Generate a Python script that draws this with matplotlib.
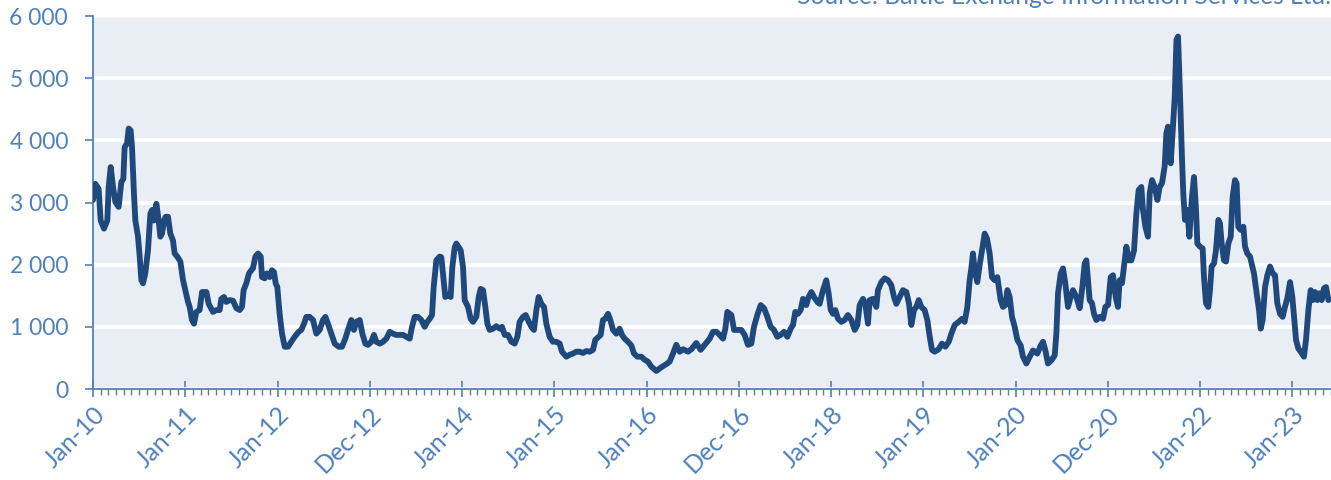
import matplotlib
matplotlib.use("Agg")
import matplotlib.pyplot as plt
from matplotlib.ticker import FixedLocator, MultipleLocator, FuncFormatter

# ---- data: years elapsed since Jan-2010 (category-axis position) and index value ----
t_years = [
    0.000, 0.025, 0.061, 0.083, 0.119, 0.155, 0.170, 0.192, 0.217, 0.242, 0.278, 0.307, 0.329, 0.343,
    0.369, 0.387, 0.408, 0.423, 0.444, 0.459, 0.488, 0.506, 0.524, 0.542, 0.567, 0.596, 0.622, 0.640,
    0.661, 0.687, 0.712, 0.730, 0.748, 0.770, 0.788, 0.813, 0.838, 0.867, 0.885, 0.914, 0.947, 0.976,
    1.001, 1.030, 1.048, 1.073, 1.095, 1.120, 1.156, 1.182, 1.229, 1.254, 1.301, 1.337, 1.373, 1.391,
    1.420, 1.445, 1.481, 1.518, 1.554, 1.590, 1.615, 1.633, 1.662, 1.691, 1.716, 1.734, 1.760, 1.789,
    1.818, 1.832, 1.861, 1.886, 1.915, 1.940, 1.962, 1.980,
    1.998, 2.023, 2.049, 2.078, 2.114, 2.150, 2.186, 2.229, 2.258, 2.287, 2.313, 2.349, 2.385, 2.421,
    2.457, 2.493, 2.519, 2.547, 2.584, 2.620, 2.663, 2.699, 2.735, 2.764, 2.800, 2.829, 2.855, 2.891,
    2.920, 2.952, 2.981, 3.017, 3.046, 3.071, 3.108, 3.144, 3.180, 3.216, 3.252, 3.288, 3.324, 3.360,
    3.397, 3.433, 3.458, 3.487, 3.523, 3.559, 3.595, 3.624, 3.650, 3.675, 3.693, 3.722, 3.758, 3.776,
    3.801, 3.819, 3.848, 3.877, 3.895, 3.921, 3.939,
    3.986, 4.011, 4.029, 4.065, 4.094, 4.119, 4.155, 4.181, 4.202, 4.228, 4.253, 4.275, 4.300, 4.336,
    4.372, 4.408, 4.434, 4.463, 4.499, 4.535, 4.571, 4.600, 4.625, 4.661, 4.690, 4.715, 4.752, 4.780,
    4.806, 4.831, 4.860, 4.889, 4.914, 4.950, 4.986, 5.023, 5.059, 5.084, 5.131, 5.167, 5.203, 5.239,
    5.276, 5.312, 5.348, 5.384, 5.420, 5.445, 5.481, 5.503, 5.528, 5.554, 5.583, 5.608, 5.637, 5.673,
    5.709, 5.734, 5.763, 5.799, 5.836, 5.864, 5.901,
    5.944, 5.980, 6.016, 6.052, 6.107, 6.161, 6.215, 6.251, 6.287, 6.323, 6.360, 6.396, 6.450, 6.486,
    6.540, 6.587, 6.631, 6.685, 6.721, 6.757, 6.793, 6.829, 6.855, 6.876, 6.920, 6.949, 6.985, 7.028,
    7.064, 7.100, 7.136, 7.165, 7.201, 7.238, 7.274, 7.310, 7.346, 7.382, 7.418, 7.454, 7.491, 7.527,
    7.563, 7.588, 7.613, 7.642, 7.671, 7.696, 7.732, 7.758, 7.787, 7.816, 7.852,
    7.877, 7.913, 7.949, 7.975, 7.997, 8.022, 8.047, 8.076, 8.112, 8.148, 8.184, 8.220, 8.257, 8.286,
    8.311, 8.347, 8.372, 8.401, 8.419, 8.455, 8.491, 8.509, 8.546, 8.582, 8.618, 8.654, 8.683, 8.708,
    8.744, 8.780, 8.817, 8.846, 8.871, 8.900, 8.925, 8.951, 8.979, 9.015, 9.044, 9.070, 9.095, 9.124,
    9.167, 9.203, 9.239, 9.276, 9.312, 9.341, 9.384, 9.420, 9.449, 9.478, 9.503, 9.521, 9.539, 9.557,
    9.586, 9.611, 9.637, 9.666, 9.691, 9.720, 9.745, 9.774, 9.803,
    9.839, 9.864, 9.890, 9.912, 9.937, 9.962, 9.991, 10.020, 10.056, 10.081, 10.118, 10.154, 10.190,
    10.237, 10.273, 10.298, 10.324, 10.352, 10.388, 10.425, 10.443, 10.461, 10.490, 10.515, 10.540,
    10.569, 10.598, 10.623, 10.659, 10.696, 10.725, 10.750, 10.768, 10.786, 10.804, 10.829, 10.851,
    10.876, 10.912, 10.949, 10.974, 11.003, 11.032, 11.057, 11.086, 11.111, 11.129, 11.154, 11.176,
    11.202, 11.227, 11.256, 11.285, 11.310, 11.335, 11.364, 11.382, 11.408, 11.436, 11.455, 11.480,
    11.509, 11.538, 11.563, 11.588, 11.617, 11.635, 11.653, 11.682, 11.707, 11.726, 11.745, 11.762,
    11.783, 11.805,
    11.819, 11.837, 11.863, 11.885, 11.910, 11.935, 11.957, 11.971, 12.000, 12.029, 12.043, 12.065,
    12.090, 12.108, 12.126, 12.152, 12.173, 12.199, 12.217, 12.235, 12.260, 12.282, 12.307, 12.333,
    12.354, 12.379, 12.397, 12.415, 12.441, 12.470, 12.488, 12.513, 12.542, 12.560, 12.585, 12.614,
    12.640, 12.658, 12.679, 12.705, 12.730, 12.759, 12.788, 12.813, 12.838, 12.867, 12.896, 12.921,
    12.947, 12.976, 13.001, 13.019, 13.041, 13.066, 13.092, 13.127, 13.149, 13.175, 13.200, 13.221,
    13.247, 13.272, 13.294, 13.319, 13.344, 13.366, 13.392,
]
bdi = [
    3040, 3300, 3220, 2710, 2580, 2710, 3250, 3570, 3250, 3010, 2930, 3330, 3380, 3890,
    3950, 4190, 4160, 3890, 3140, 2710, 2450, 2130, 1750, 1700, 1860, 2230, 2820, 2880,
    2710, 2980, 2710, 2450, 2500, 2710, 2770, 2770, 2500, 2390, 2180, 2130, 2050, 1750,
    1590, 1400, 1320, 1110, 1050, 1240, 1270, 1560, 1560, 1370, 1240, 1270, 1270, 1450,
    1480, 1400, 1430, 1420, 1300, 1270, 1320, 1590, 1700, 1860, 1910, 1940, 2130, 2180,
    2130, 1800, 1780, 1860, 1800, 1910, 1880, 1700,
    1640, 1210, 890, 680, 680, 760, 840, 920, 950, 1050, 1160, 1160, 1110, 890,
    950, 1110, 1160, 1050, 890, 730, 680, 680, 810, 950, 1110, 950, 1080, 1110,
    890, 730, 710, 760, 870, 760, 730, 760, 810, 920, 890, 870, 870, 870,
    840, 810, 1000, 1160, 1160, 1110, 1000, 1080, 1130, 1190, 1640, 2070, 2130, 2120,
    1750, 1480, 1510, 1480, 1960, 2280, 2340,
    2230, 1960, 1430, 1320, 1130, 1080, 1160, 1480, 1610, 1590, 1320, 1050, 950, 970,
    1010, 970, 1000, 870, 870, 760, 730, 840, 1080, 1160, 1190, 1110, 1000, 950,
    1270, 1480, 1370, 1320, 1050, 840, 760, 760, 730, 600, 520, 550, 570, 600,
    600, 580, 610, 600, 630, 790, 840, 870, 1110, 1130, 1210, 1110, 950, 890,
    970, 870, 810, 760, 700, 570, 520,
    520, 470, 440, 360, 290, 350, 400, 440, 570, 710, 600, 640, 600, 640,
    740, 630, 710, 810, 920, 920, 870, 810, 970, 1240, 1190, 950, 950, 950,
    870, 710, 730, 1000, 1190, 1350, 1300, 1160, 1000, 950, 840, 870, 920, 840,
    970, 1030, 1240, 1210, 1270, 1450, 1350, 1480, 1560, 1480, 1400,
    1370, 1590, 1750, 1530, 1270, 1210, 1270, 1130, 1080, 1110, 1190, 1110, 950, 1030,
    1350, 1450, 1370, 1050, 1430, 1450, 1320, 1590, 1720, 1780, 1750, 1670, 1480, 1370,
    1480, 1590, 1560, 1370, 1030, 1270, 1320, 1430, 1320, 1270, 1110, 840, 630, 600,
    640, 730, 680, 760, 920, 1030, 1080, 1130, 1080, 1320, 1750, 1940, 2180, 1910,
    1720, 1990, 2230, 2500, 2420, 2180, 1800, 1750, 1800,
    1430, 1320, 1350, 1590, 1480, 1160, 1000, 790, 700, 520, 410, 520, 620,
    570, 700, 760, 620, 410, 460, 540, 890, 1540, 1860, 1940, 1700,
    1320, 1480, 1590, 1480, 1300, 1640, 2020, 2070, 1750, 1430, 1380, 1210,
    1110, 1160, 1130, 1320, 1350, 1800, 1830, 1480, 1320, 1750, 1700, 1970,
    2290, 2070, 2070, 2230, 2820, 3200, 3250, 2880, 2610, 2450, 3150, 3360,
    3250, 3040, 3250, 3310, 3580, 4110, 4220, 3630, 4220, 4700, 5620, 5670,
    4750, 3700,
    3140, 2720, 2880, 2450, 3040, 3410, 2880, 2340, 2290, 2260, 1800, 1380,
    1320, 1590, 1970, 2020, 2230, 2720, 2660, 2340, 2070, 2050, 2340, 2450,
    3090, 3360, 3310, 2610, 2560, 2610, 2290, 2180, 2130, 2020, 1860, 1540,
    1270, 970, 1110, 1640, 1830, 1970, 1860, 1830, 1380, 1210, 1160, 1320,
    1460, 1720, 1480, 1160, 790, 650, 600, 520, 790, 1270, 1590, 1430,
    1560, 1430, 1540, 1430, 1620, 1640, 1430,
]

x_tick_labels = ["Jan-10", "Jan-11", "Jan-12", "Dec-12", "Jan-14", "Jan-15", "Jan-16",
                 "Dec-16", "Jan-18", "Jan-19", "Jan-20", "Dec-20", "Jan-22", "Jan-23"]
y_ticks = [0, 1000, 2000, 3000, 4000, 5000, 6000]
source_text = "Source: Baltic Exchange Information Services Ltd."

# ---- style ----
LINE = "#1F497D"
AXC = "#4F81BD"
BG = "#E9EDF4"
FONT = ["Lato", "DejaVu Sans"]
plt.rcParams["font.family"] = FONT

fig = plt.figure(figsize=(13.31, 4.80), dpi=100)
ax = fig.add_axes([93 / 1331, 91 / 480, 1 - 93 / 1331, (389 - 16) / 480])
ax.set_facecolor(BG)

ax.plot(t_years, bdi, color=LINE, lw=4.2, solid_joinstyle="round", solid_capstyle="round", zorder=3)

ax.set_ylim(0, 6000)
ax.set_xlim(0, (1331 - 93) / 92.25)

ax.yaxis.set_major_locator(FixedLocator(y_ticks))
ax.yaxis.set_major_formatter(FuncFormatter(lambda v, p: f"{int(v):,}".replace(",", " ")))
ax.grid(axis="y", color="white", lw=2.6, zorder=1)
ax.set_axisbelow(True)

ax.xaxis.set_major_locator(FixedLocator(list(range(len(x_tick_labels)))))
ax.set_xticklabels(x_tick_labels)
ax.xaxis.set_minor_locator(MultipleLocator(1 / 12))

for s in ["top", "right"]:
    ax.spines[s].set_visible(False)
for s in ["left", "bottom"]:
    ax.spines[s].set_color(AXC)
    ax.spines[s].set_linewidth(1.3)

ax.tick_params(axis="y", which="major", direction="out", length=6, width=1.2, color=AXC,
               labelcolor=AXC, labelsize=16.5, pad=12)
ax.tick_params(axis="x", which="major", direction="inout", length=11, width=1.2, color=AXC,
               labelcolor=AXC, labelsize=18, pad=4)
ax.tick_params(axis="x", which="minor", direction="out", length=4.5, width=1.0, color=AXC)
for lab in ax.get_xticklabels():
    lab.set_rotation(45)
    lab.set_ha("right")
    lab.set_va("top")
    lab.set_rotation_mode("anchor")

fig.text(797 / 1331, 1 - 4 / 480, source_text, ha="left", va="baseline",
         color=AXC, fontsize=17.7)

fig.savefig("out.png", dpi=100, facecolor="white")
